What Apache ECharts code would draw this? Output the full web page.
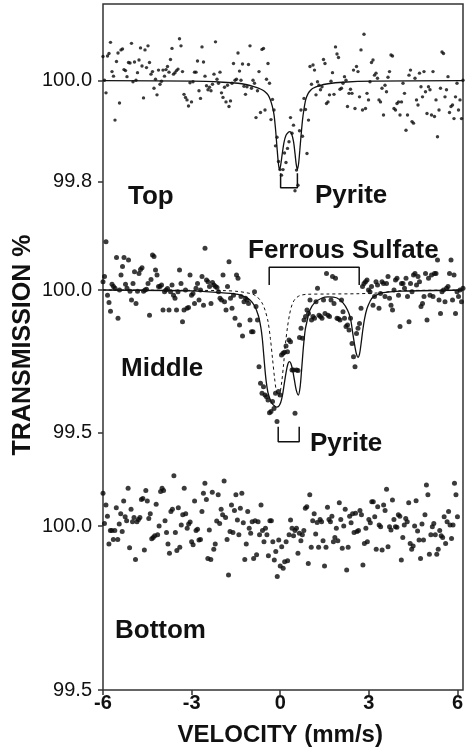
<!DOCTYPE html>
<html>
<head>
<meta charset="utf-8">
<script src="https://cdn.jsdelivr.net/npm/echarts@6/dist/echarts.min.js"></script>
<style>html,body{margin:0;padding:0;background:#fff}#c{width:466px;height:756px}</style>
</head>
<body>
<div id="c"></div>
<script>
// Channel velocities (mm/s)
const velocity = [
-6,-5.95,-5.9,-5.85,-5.8,-5.75,-5.7,-5.65,-5.6,-5.55,
-5.5,-5.45,-5.4,-5.35,-5.3,-5.25,-5.2,-5.15,-5.1,-5.05,
-5,-4.95,-4.9,-4.85,-4.8,-4.75,-4.7,-4.65,-4.6,-4.55,
-4.5,-4.45,-4.4,-4.35,-4.3,-4.25,-4.2,-4.15,-4.1,-4.05,
-4,-3.95,-3.9,-3.85,-3.8,-3.75,-3.7,-3.65,-3.6,-3.55,
-3.5,-3.45,-3.4,-3.35,-3.3,-3.25,-3.2,-3.15,-3.1,-3.05,
-3,-2.95,-2.9,-2.85,-2.8,-2.75,-2.7,-2.65,-2.6,-2.55,
-2.5,-2.45,-2.4,-2.35,-2.3,-2.25,-2.2,-2.15,-2.1,-2.05,
-2,-1.95,-1.9,-1.85,-1.8,-1.75,-1.7,-1.65,-1.6,-1.55,
-1.5,-1.45,-1.4,-1.35,-1.3,-1.25,-1.2,-1.15,-1.1,-1.05,
-1,-0.95,-0.9,-0.85,-0.8,-0.75,-0.7,-0.65,-0.6,-0.55,
-0.5,-0.45,-0.4,-0.35,-0.3,-0.25,-0.2,-0.15,-0.1,-0.05,
0,0.05,0.1,0.15,0.2,0.25,0.3,0.35,0.4,0.45,
0.5,0.55,0.6,0.65,0.7,0.75,0.8,0.85,0.9,0.95,
1,1.05,1.1,1.15,1.2,1.25,1.3,1.35,1.4,1.45,
1.5,1.55,1.6,1.65,1.7,1.75,1.8,1.85,1.9,1.95,
2,2.05,2.1,2.15,2.2,2.25,2.3,2.35,2.4,2.45,
2.5,2.55,2.6,2.65,2.7,2.75,2.8,2.85,2.9,2.95,
3,3.05,3.1,3.15,3.2,3.25,3.3,3.35,3.4,3.45,
3.5,3.55,3.6,3.65,3.7,3.75,3.8,3.85,3.9,3.95,
4,4.05,4.1,4.15,4.2,4.25,4.3,4.35,4.4,4.45,
4.5,4.55,4.6,4.65,4.7,4.75,4.8,4.85,4.9,4.95,
5,5.05,5.1,5.15,5.2,5.25,5.3,5.35,5.4,5.45,
5.5,5.55,5.6,5.65,5.7,5.75,5.8,5.85,5.9,5.95,
6
];

// Measured transmission (%) - Top sample
const topTransmission = [
100.048,100.001,99.976,100.049,100.054,100.076,100.018,100.009,99.922,100.038,
100.055,99.956,100.061,100.063,100.022,100.020,100.008,100.036,100.035,100.074,
99.998,100.037,100.001,100.016,100.041,100.065,100.029,99.966,100.061,100.026,
100.069,100.036,100.013,100.018,99.985,100.003,99.972,100.021,99.993,99.999,
100.021,100.009,100.022,100.028,100.017,100.042,100.064,100.013,100.016,100.020,
100.023,100.083,100.069,100.018,99.973,99.967,99.962,99.950,99.996,99.958,
99.998,100.017,100.017,100.039,99.980,99.965,100.067,100.037,100.009,99.990,
99.982,99.987,99.980,99.993,100.013,100.077,100.003,99.995,100.017,99.976,
99.967,99.987,99.958,99.991,99.949,99.960,99.995,100.034,100.001,100.003,
100.055,100.019,100.001,100.033,99.989,99.973,99.988,100.032,100.069,99.985,
100.001,99.995,99.927,99.980,100.018,99.937,100.062,100.064,99.942,100.003,
100.034,99.995,99.923,99.963,99.942,99.871,99.888,99.840,99.824,99.813,
99.824,99.857,99.838,99.866,99.879,99.927,99.896,99.912,99.782,99.823,
99.793,99.901,99.942,99.890,99.965,99.943,99.856,99.922,100.028,99.993,
100.031,100.021,99.972,99.998,99.991,99.982,99.988,100.042,100.034,99.955,
99.958,99.972,99.999,100.016,99.973,100.067,100.053,100.046,99.983,99.985,
99.995,100.008,100.001,99.949,99.975,99.983,99.975,100.021,99.945,100.028,
100.018,99.968,100.061,99.942,100.092,99.945,99.975,99.962,99.998,100.036,
100.041,100.011,100.015,100.005,99.962,99.958,99.985,99.932,99.991,99.978,
100.007,100.018,100.051,100.049,99.945,99.942,99.955,99.958,99.932,99.958,
99.995,99.975,99.902,99.932,100.011,100.021,99.919,99.916,100.005,99.962,
99.952,100.015,99.988,99.968,100.018,99.978,99.935,99.988,99.982,99.932,
100.018,99.929,99.962,99.889,99.942,99.985,100.057,100.054,99.968,99.982,
100.008,99.937,99.949,99.952,99.925,99.968,99.995,99.942,99.962,99.925,
100.001
];

// Measured transmission (%) - Middle sample
const middleTransmission = [
100.029,100.047,100.169,99.982,99.956,99.926,100.020,100.012,100.006,100.114,
99.901,100.000,100.053,100.082,100.114,100.020,100.006,100.105,99.996,99.965,
100.023,100.064,99.953,99.996,100.058,100.072,100.078,99.996,100.000,100.003,
100.023,99.912,100.037,100.123,100.117,100.070,100.053,100.012,100.012,100.018,
99.930,99.994,100.000,100.005,99.930,99.994,100.018,99.982,99.971,99.930,
99.994,100.070,100.023,99.889,99.930,100.000,99.936,99.939,100.053,99.982,
99.988,99.953,100.006,100.023,99.965,100.000,100.047,99.947,100.146,100.035,
100.029,100.012,99.953,100.026,100.018,100.012,100.009,99.994,99.971,99.965,
100.053,99.959,99.930,100.012,100.099,99.971,99.936,99.982,99.901,100.053,
100.041,99.877,99.977,99.839,99.959,99.971,99.965,99.953,99.895,99.854,
99.854,99.994,99.942,99.895,99.731,99.673,99.638,99.661,99.632,99.626,
99.615,99.570,99.574,99.609,99.585,99.638,99.539,99.644,99.632,99.772,
99.778,99.782,99.804,99.784,99.825,99.819,99.720,99.720,99.568,99.720,
99.718,99.834,99.866,99.831,99.895,99.907,99.930,99.918,99.965,99.895,
99.907,99.901,99.959,100.006,99.912,99.907,99.901,99.965,99.918,100.058,
99.912,99.907,99.965,100.047,99.953,100.041,99.901,99.899,99.895,99.965,
99.924,99.901,99.872,99.877,99.860,99.901,99.813,99.766,99.731,99.848,
99.866,99.883,99.936,100.012,100.023,100.029,100.035,100.000,99.994,100.012,
99.947,99.977,100.029,100.018,99.936,99.988,100.029,100.023,99.977,100.023,
100.047,99.971,99.947,99.930,100.000,100.035,100.041,99.982,99.872,100.023,
100.023,100.006,100.041,99.977,99.889,100.023,99.994,100.053,100.058,100.018,
100.047,100.029,99.942,99.953,99.977,100.058,99.895,100.041,99.982,100.053,
99.977,100.058,100.058,100.105,99.965,99.918,99.994,100.000,99.959,100.006,
100.012,100.058,100.105,99.965,100.053,99.918,99.994,99.977,100.000,99.959,
100.006
];

// Measured transmission (%) - Bottom sample
const bottomTransmission = [
100.100,100.008,100.064,100.030,99.945,99.986,99.986,99.959,99.986,100.056,
99.959,100.006,100.037,99.983,100.076,100.028,100.016,100.115,99.934,100.051,
100.013,100.026,99.898,100.013,100.020,100.026,100.081,100.084,99.927,100.108,
100.076,100.023,100.037,99.961,99.965,99.970,100.066,99.973,100.000,100.105,
100.115,100.108,100.016,99.980,99.945,99.917,100.044,100.051,100.153,99.980,
99.925,100.056,99.935,100.003,100.034,100.115,100.037,99.993,100.006,100.012,
99.952,99.943,100.076,99.986,
99.990,99.957,99.959,100.044,100.100,100.130,100.081,99.901,99.988,99.898,
100.103,99.929,99.945,100.015,100.095,100.008,100.051,100.034,100.137,100.026,
99.959,99.851,99.983,100.064,99.980,100.047,100.095,100.018,99.973,100.054,
100.100,100.010,99.898,99.945,100.044,99.993,99.978,100.013,99.901,100.016,
99.912,100.013,99.973,100.064,99.986,99.952,99.993,99.973,99.909,100.016,
100.016,99.952,99.896,99.922,99.846,99.957,99.878,99.937,99.871,99.891,
99.952,99.894,99.973,100.018,99.993,99.970,99.986,99.993,99.917,99.978,
99.955,99.973,99.986,100.054,100.059,99.886,100.095,99.935,100.016,100.037,
99.976,100.011,99.935,100.020,100.013,99.955,99.878,99.935,100.057,100.020,
100.013,100.030,99.952,99.965,99.993,99.955,100.071,100.020,99.932,100.000,
100.051,99.866,99.935,100.030,100.010,100.037,99.980,
100.039,99.983,99.986,100.047,100.034,99.881,99.947,99.993,99.952,100.020,
100.010,100.074,100.074,100.028,99.929,100.059,100.003,99.998,99.927,100.064,
100.047,100.112,99.937,99.998,99.988,100.079,100.020,99.998,99.996,100.034,
100.030,99.896,99.965,100.003,100.023,100.013,100.071,99.947,99.929,99.939,
100.000,100.077,99.985,99.957,99.901,100.006,99.957,100.034,100.125,100.095,
99.914,99.973,99.998,100.008,99.973,99.914,99.929,99.986,99.970,99.965,
100.028,99.947,100.013,100.044,100.003,99.962,100.003,100.130,100.095,100.028
];

// Fitted envelopes
const topFitVelocity = [-6,-3,-2,-1.5,-1.2,-1,-0.8,-0.7,-0.6,-0.5,-0.42,-0.36,-0.3,-0.25,-0.2,-0.16,-0.12,-0.08,-0.03,0.03,0.1,0.18,0.23,0.28,0.35,0.4,0.44,0.48,0.52,0.56,0.6,0.65,0.7,0.76,0.84,0.92,1,1.2,1.5,2,3,6];
const topFitTransmission = [100,99.999,99.997,99.995,99.992,99.989,99.985,99.982,99.978,99.972,99.962,99.950,99.933,99.905,99.868,99.840,99.824,99.832,99.853,99.877,99.892,99.898,99.899,99.896,99.880,99.856,99.835,99.824,99.836,99.862,99.890,99.922,99.944,99.963,99.975,99.981,99.985,99.990,99.994,99.997,99.999,100];

const middleFitVelocity = [-6,-3,-2,-1.5,-1.25,-1.1,-0.95,-0.82,-0.74,-0.69,-0.64,-0.6,-0.56,-0.5,-0.44,-0.38,-0.3,-0.22,-0.15,-0.08,-0.02,0.04,0.1,0.16,0.21,0.26,0.32,0.38,0.44,0.51,0.57,0.62,0.68,0.74,0.8,0.9,1.05,1.3,1.5,1.8,2.0,2.15,2.25,2.33,2.4,2.45,2.5,2.55,2.6,2.66,2.72,2.8,2.9,3.0,3.3,4,6];
const middleFitTransmission = [100,99.997,99.99,99.985,99.975,99.965,99.945,99.91,99.87,99.83,99.77,99.72,99.68,99.64,99.62,99.605,99.595,99.59,99.592,99.605,99.63,99.67,99.71,99.74,99.749,99.743,99.72,99.685,99.65,99.632,99.66,99.72,99.80,99.86,99.89,99.93,99.955,99.972,99.976,99.972,99.955,99.93,99.9,99.845,99.8,99.775,99.764,99.775,99.81,99.86,99.9,99.935,99.96,99.975,99.99,99.996,100];

const middleComponentVelocity = [-6,-2,-1.5,-1.2,-1,-0.85,-0.7,-0.6,-0.5,-0.42,-0.35,-0.28,-0.22,-0.16,-0.1,-0.04,0.02,0.08,0.15,0.22,0.3,0.4,0.55,0.8,1.5,2.5,3.2,3.6,4,6];
const middleComponentTransmission = [100,99.998,99.995,99.99,99.985,99.975,99.955,99.93,99.89,99.83,99.76,99.69,99.645,99.628,99.64,99.68,99.74,99.81,99.87,99.915,99.948,99.968,99.98,99.985,99.986,99.987,99.99,99.995,99.998,100];

// Doublet assignments (line positions, mm/s)
const topPyriteLines = [-0.08, 0.48];
const middleSulfateLines = [-0.46, 2.54];
const middlePyriteLines = [-0.16, 0.54];

const xTicks = [-6, -3, 0, 3, 6];
const topTicks = [99.8, 100.0];
const middleTicks = [99.5, 100.0];
const bottomTicks = [99.5, 100.0];

const FONT = '"Liberation Sans", Arial, Helvetica, sans-serif';
const INK = '#111';

function pairs(xs, ys) { return xs.map((x, k) => [x, ys[k]]); }
function bracketDown(lines, yTop, yBottom) {
  return [[lines[0], yTop], [lines[0], yBottom], [lines[1], yBottom], [lines[1], yTop]];
}
function bracketUp(lines, yBottom, yTop) {
  return [[lines[0], yBottom], [lines[0], yTop], [lines[1], yTop], [lines[1], yBottom]];
}

const L = 103, W = 360;
const grids = [
  { left: L, width: W, top: 4, height: 221 },
  { left: L, width: W, top: 225, height: 230 },
  { left: L, width: W, top: 455, height: 235 }
];
const yRanges = [[99.7143, 100.1519], [99.4219, 100.2278], [99.5, 100.2165]];
const yTicks = [topTicks, middleTicks, bottomTicks];

const xAxes = grids.map((g, i) => ({
  type: 'value', gridIndex: i, min: -6, max: 6, interval: 3,
  show: i === 2, position: 'bottom',
  axisLine: { show: false, onZero: false },
  axisTick: { show: true, length: 5, inside: false, lineStyle: { color: '#333', width: 1.5 }, customValues: xTicks },
  axisLabel: { show: true, customValues: xTicks, margin: 3, fontFamily: FONT, fontWeight: 'bold', fontSize: 20, color: INK },
  splitLine: { show: false },
  name: i === 2 ? 'VELOCITY (mm/s)' : '',
  nameLocation: 'middle', nameGap: 33,
  nameTextStyle: { fontFamily: FONT, fontWeight: 'bold', fontSize: 24, color: INK }
}));

const yAxes = grids.map((g, i) => ({
  type: 'value', gridIndex: i, min: yRanges[i][0], max: yRanges[i][1], position: 'left',
  axisLine: { show: false, onZero: false },
  axisTick: { show: true, length: 5, lineStyle: { color: '#333', width: 1.5 }, customValues: yTicks[i] },
  axisLabel: { customValues: yTicks[i], margin: 11, fontFamily: FONT, fontSize: 20, color: INK,
               formatter: v => Number(v).toFixed(1) },
  splitLine: { show: false }
}));

const dotSizes = [3.4, 5, 5];
const samples = [topTransmission, middleTransmission, bottomTransmission];

const series = [];
samples.forEach((s, i) => {
  series.push({
    type: 'scatter', xAxisIndex: i, yAxisIndex: i, symbol: 'circle', symbolSize: dotSizes[i],
    itemStyle: { color: '#0a0a0a' }, data: pairs(velocity, s), silent: true
  });
});
series.push({ type: 'line', xAxisIndex: 0, yAxisIndex: 0, data: pairs(topFitVelocity, topFitTransmission),
  smooth: 0.3, showSymbol: false, lineStyle: { color: INK, width: 1.3 } });
series.push({ type: 'line', xAxisIndex: 1, yAxisIndex: 1, data: pairs(middleComponentVelocity, middleComponentTransmission),
  smooth: 0.3, showSymbol: false, lineStyle: { color: INK, width: 1, type: [3, 3] } });
series.push({ type: 'line', xAxisIndex: 1, yAxisIndex: 1, data: pairs(middleFitVelocity, middleFitTransmission),
  smooth: 0.3, showSymbol: false, lineStyle: { color: INK, width: 1.3 } });
// brackets
series.push({ type: 'line', xAxisIndex: 0, yAxisIndex: 0, data: bracketDown(topPyriteLines, 99.817, 99.788),
  showSymbol: false, lineStyle: { color: INK, width: 1.5 } });
series.push({ type: 'line', xAxisIndex: 1, yAxisIndex: 1, data: bracketUp(middleSulfateLines, 100.0175, 100.0795),
  showSymbol: false, lineStyle: { color: INK, width: 1.5 } });
series.push({ type: 'line', xAxisIndex: 1, yAxisIndex: 1, data: bracketDown(middlePyriteLines, 99.521, 99.468),
  showSymbol: false, lineStyle: { color: INK, width: 1.5 } });

function label(text, x, y, size) {
  return { type: 'text', x: x, y: y, silent: true,
    style: { text: text, font: 'bold ' + (size || 26) + 'px ' + FONT, fill: INK, align: 'left', verticalAlign: 'middle' } };
}

const chart = echarts.init(document.getElementById('c'), null, { renderer: 'canvas' });
chart.setOption({
  animation: false,
  backgroundColor: '#fff',
  grid: grids,
  xAxis: xAxes,
  yAxis: yAxes,
  series: series,
  graphic: [
    { type: 'rect', shape: { x: L, y: 4, width: W, height: 686 }, silent: true,
      style: { fill: 'none', stroke: '#333', lineWidth: 1.5 } },
    { type: 'text', x: 23, y: 345, rotation: Math.PI / 2, silent: true,
      style: { text: 'TRANSMISSION %', font: 'bold 25px ' + FONT, fill: INK, align: 'center', verticalAlign: 'middle' } },
    label('Top', 128, 197),
    label('Pyrite', 315, 196),
    label('Ferrous Sulfate', 248, 251),
    label('Middle', 121, 369),
    label('Pyrite', 310, 444),
    label('Bottom', 115, 631)
  ]
});
</script>
</body>
</html>
